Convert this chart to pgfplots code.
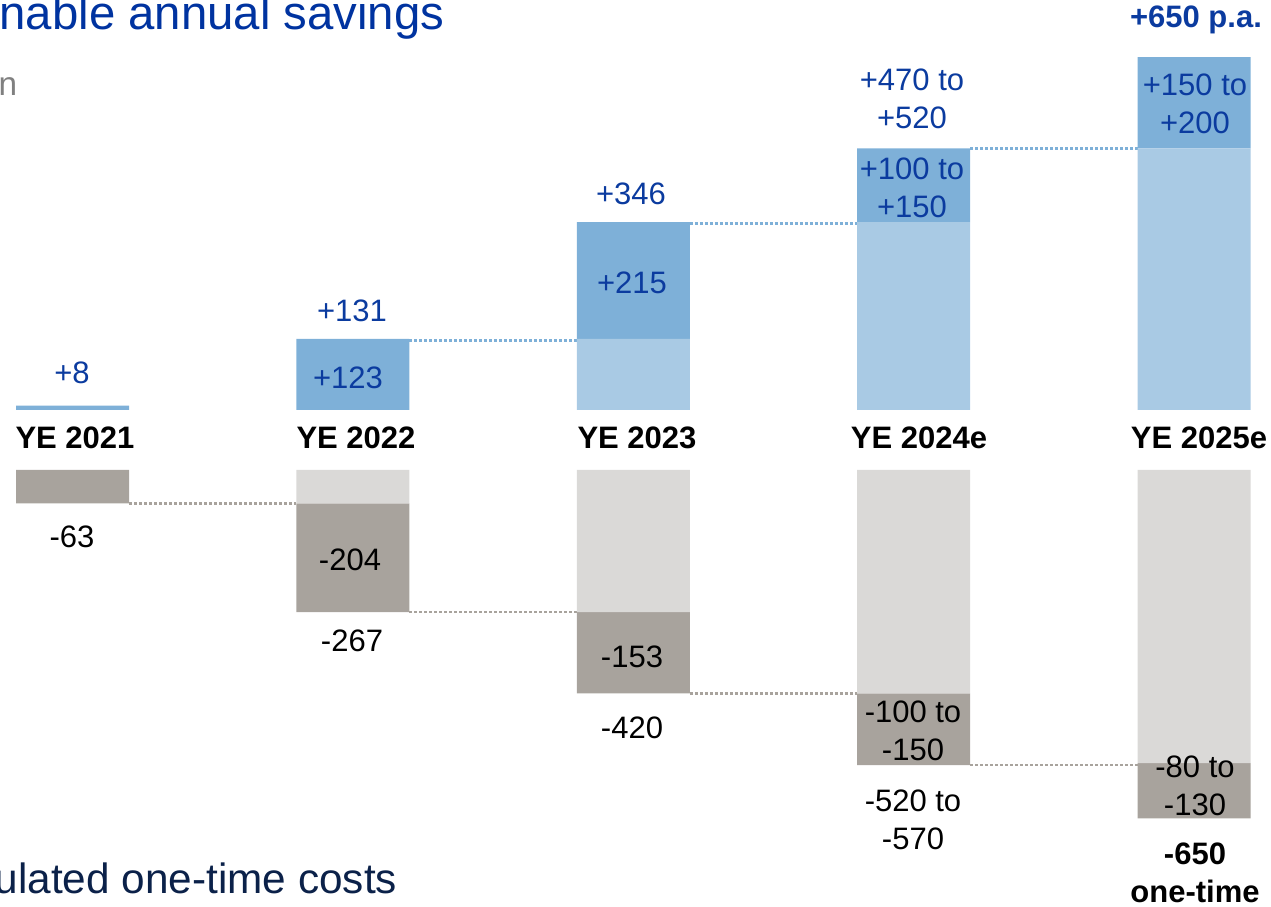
\documentclass[border=0pt]{standalone}
\usepackage{pgfplots}
\pgfplotsset{compat=1.18}
\usepackage{fontspec}
\setmainfont{Liberation Sans}
\definecolor{barblue}{HTML}{7EB0D8}
\definecolor{lightblue}{HTML}{A9CAE4}
\definecolor{bargray}{HTML}{A8A39D}
\definecolor{lightgray}{HTML}{DAD9D7}
\definecolor{labelblue}{HTML}{0B3B9F}
\definecolor{titleblue}{HTML}{0033A0}
\definecolor{navy}{HTML}{0B2149}
\begin{document}
\begin{tikzpicture}
\path[use as bounding box] (0,0) rectangle (381.3pt,272.1pt);
% savings (top panel)
\begin{axis}[
        at={(0pt,149.1pt)}, anchor=south west,
        scale only axis, width=381.3pt, height=123pt,
        xmin=-0.2586, xmax=4.2743, ymin=0, ymax=755.1,
        hide axis, ybar stacked, bar width=0.403,
    ]
    \addplot [fill=lightblue, draw=none] coordinates {(0,0) (1,0) (2,131) (3,346) (4,482)};
    \addplot [fill=barblue, draw=none] coordinates {(0,8) (1,131) (2,215) (3,136) (4,168)};
    \draw [barblue, line width=0.75pt, dash pattern=on 0.9pt off 0.6pt]
        (axis cs:1.2015,128) -- (axis cs:1.7985,128)
        (axis cs:2.2015,343) -- (axis cs:2.7985,343)
        (axis cs:3.2015,482) -- (axis cs:3.7985,482);
\end{axis}
% one-time costs (bottom panel)
\begin{axis}[
        at={(0pt,0pt)}, anchor=south west,
        scale only axis, width=381.3pt, height=131.1pt,
        xmin=-0.2586, xmax=4.2743, ymin=-821.4, ymax=0,
        hide axis, ybar stacked, bar width=0.403,
    ]
    \addplot [fill=lightgray, draw=none] coordinates {(0,0) (1,-63) (2,-267) (3,-420) (4,-551)};
    \addplot [fill=bargray, draw=none] coordinates {(0,-63) (1,-204) (2,-153) (3,-135) (4,-104)};
    \draw [bargray, line width=0.75pt, dash pattern=on 0.9pt off 0.6pt]
        (axis cs:0.2015,-63) -- (axis cs:0.7985,-63)
        (axis cs:1.2015,-267) -- (axis cs:1.7985,-267)
        (axis cs:2.2015,-420) -- (axis cs:2.7985,-420)
        (axis cs:3.2015,-555) -- (axis cs:3.7985,-555);
\end{axis}
% texts, placed in pixels from the top left corner
\begin{scope}[x=0.3pt, y=-0.3pt, shift={(0pt,272.1pt)},
        lab/.style={inner sep=0pt, align=center, font=\fontsize{9.3}{11.4}\selectfont},
        blab/.style={inner sep=0pt, align=center, font=\fontsize{9.3}{11.4}\selectfont\bfseries}]
    \node [anchor=west, inner sep=0pt, text=titleblue, font=\fontsize{14.2}{16}\selectfont] at (-1,17) {nable annual savings};
    \node [anchor=west, inner sep=0pt, text=gray, font=\fontsize{10}{12}\selectfont] at (-2,87) {n};
    \node [anchor=west, inner sep=0pt, text=navy, font=\fontsize{12.7}{15}\selectfont] at (-6,878) {ulated one-time costs};
    \begin{scope}[text=labelblue]
        \node [lab] at (72,373) {+8};
        \node [lab] at (352,311) {+131};
        \node [lab] at (348,378) {+123};
        \node [lab] at (631,194) {+346};
        \node [lab] at (632,283) {+215};
        \node [lab] at (912,99) {+470 to\\+520};
        \node [lab] at (912,188) {+100 to\\+150};
        \node [blab] at (1196,20) {+650 p.a.};
        \node [lab] at (1195,104) {+150 to\\+200};
    \end{scope}
    \node [blab] at (75,438) {YE 2021};
    \node [blab] at (356,438) {YE 2022};
    \node [blab] at (637,438) {YE 2023};
    \node [blab] at (919,438) {YE 2024e};
    \node [blab] at (1199,438) {YE 2025e};
    \node [lab] at (72,537) {-63};
    \node [lab] at (350,560) {-204};
    \node [lab] at (352,641) {-267};
    \node [lab] at (632,657) {-153};
    \node [lab] at (632,728) {-420};
    \node [lab] at (913,731) {-100 to\\-150};
    \node [lab] at (913,820) {-520 to\\-570};
    \node [lab] at (1195,786) {-80 to\\-130};
    \node [blab] at (1195,873) {-650\\one-time};
\end{scope}
\end{tikzpicture}
\end{document}
